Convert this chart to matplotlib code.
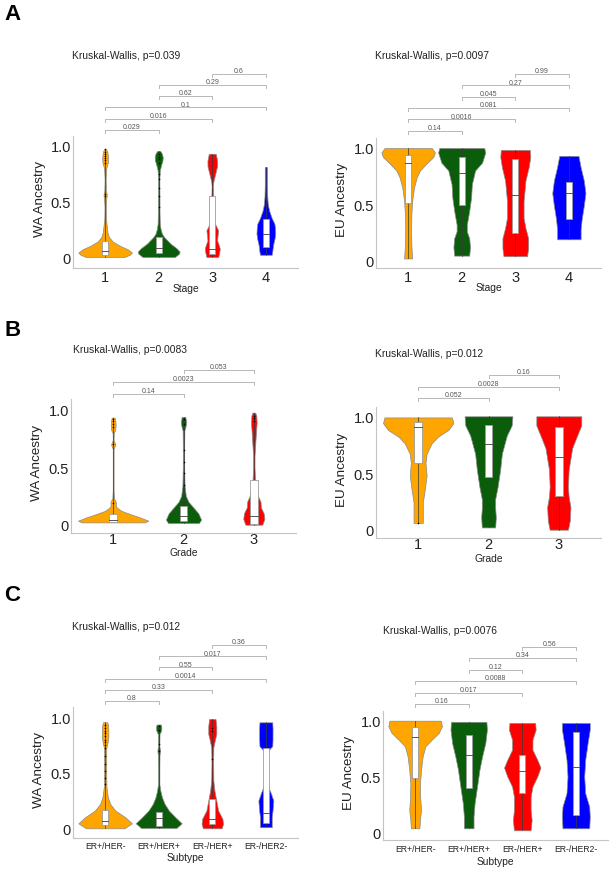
import numpy as np
import matplotlib
matplotlib.use("Agg")
import matplotlib.pyplot as plt
from matplotlib.patches import Rectangle

plt.rcParams["font.family"] = ["Liberation Sans", "DejaVu Sans"]

colors = ["#ffa500", "#0b5d0b", "#ff0000", "#0000ff"]

# -------------------------------
# Data
# violin outline: value levels + half widths (category units)
# -------------------------------
stage_cats = ["1", "2", "3", "4"]
grade_cats = ["1", "2", "3"]
subtype_cats = ["ER+/HER-", "ER+/HER+", "ER-/HER+", "ER-/HER2-"]

# A, WA Ancestry by Stage
stage_wa_y = [
    [0.00, 0.02, 0.04, 0.07, 0.10, 0.14, 0.18, 0.22, 0.28, 0.35, 0.45, 0.52, 0.56, 0.60, 0.70, 0.80, 0.85, 0.90, 0.95, 0.97],
    [0.00, 0.03, 0.05, 0.08, 0.12, 0.15, 0.18, 0.21, 0.25, 0.30, 0.40, 0.50, 0.60, 0.70, 0.78, 0.83, 0.87, 0.90, 0.93, 0.955],
    [0.00, 0.04, 0.075, 0.11, 0.15, 0.20, 0.24, 0.28, 0.32, 0.40, 0.50, 0.58, 0.64, 0.68, 0.72, 0.78, 0.82, 0.87, 0.93],
    [0.02, 0.05, 0.09, 0.12, 0.16, 0.21, 0.26, 0.30, 0.35, 0.42, 0.48, 0.55, 0.65, 0.75, 0.81],
]
stage_wa_w = [
    [0.36, 0.46, 0.50, 0.42, 0.28, 0.14, 0.07, 0.045, 0.03, 0.015, 0.012, 0.02, 0.03, 0.015, 0.01, 0.02, 0.05, 0.055, 0.04, 0.02],
    [0.30, 0.38, 0.39, 0.33, 0.22, 0.16, 0.10, 0.06, 0.035, 0.02, 0.015, 0.015, 0.013, 0.012, 0.02, 0.045, 0.07, 0.075, 0.06, 0.03],
    [0.11, 0.13, 0.14, 0.12, 0.09, 0.10, 0.11, 0.07, 0.03, 0.02, 0.02, 0.015, 0.012, 0.02, 0.04, 0.07, 0.09, 0.09, 0.065],
    [0.11, 0.12, 0.13, 0.14, 0.16, 0.175, 0.17, 0.16, 0.11, 0.06, 0.035, 0.025, 0.02, 0.02, 0.02],
]
stage_wa_q1 = [0.02, 0.04, 0.03, 0.09]
stage_wa_med = [0.05, 0.08, 0.07, 0.21]
stage_wa_q3 = [0.14, 0.18, 0.55, 0.34]
stage_wa_out = [
    [0.55, 0.57, 0.85, 0.87, 0.89, 0.91, 0.93, 0.95, 0.97],
    [0.45, 0.55, 0.62, 0.70, 0.75, 0.85, 0.88, 0.90, 0.93],
    [],
    [],
]
stage_wa_p = ["0.029", "0.016", "0.1", "0.62", "0.29", "0.6"]
stage_wa_kw = "Kruskal-Wallis, p=0.039"

# A, EU Ancestry by Stage
stage_eu_y = [
    [0.02, 0.14, 0.26, 0.41, 0.53, 0.65, 0.74, 0.80, 0.86, 0.92, 0.96, 1.00],
    [0.045, 0.12, 0.20, 0.26, 0.32, 0.44, 0.56, 0.68, 0.80, 0.87, 0.96, 1.00],
    [0.04, 0.11, 0.20, 0.29, 0.38, 0.53, 0.71, 0.83, 0.92, 0.983],
    [0.19, 0.28, 0.37, 0.49, 0.60, 0.71, 0.83, 0.93],
]
stage_eu_w = [
    [0.075, 0.06, 0.055, 0.06, 0.075, 0.11, 0.16, 0.22, 0.34, 0.47, 0.50, 0.44],
    [0.14, 0.155, 0.14, 0.095, 0.095, 0.14, 0.175, 0.19, 0.25, 0.38, 0.44, 0.42],
    [0.22, 0.24, 0.24, 0.19, 0.155, 0.155, 0.19, 0.25, 0.28, 0.27],
    [0.22, 0.22, 0.24, 0.28, 0.31, 0.28, 0.22, 0.18],
]
stage_eu_q1 = [0.51, 0.495, 0.25, 0.37]
stage_eu_med = [0.865, 0.775, 0.583, 0.60]
stage_eu_q3 = [0.94, 0.92, 0.90, 0.70]
stage_eu_out = [[], [], [], []]
stage_eu_p = ["0.14", "0.0016", "0.081", "0.045", "0.27", "0.99"]
stage_eu_kw = "Kruskal-Wallis, p=0.0097"

# B, WA Ancestry by Grade
grade_wa_y = [
    [0.02, 0.035, 0.064, 0.093, 0.12, 0.15, 0.17, 0.19, 0.21, 0.23, 0.30, 0.50, 0.66, 0.70, 0.74, 0.80, 0.83, 0.87, 0.91, 0.934],
    [0.015, 0.045, 0.10, 0.15, 0.20, 0.25, 0.34, 0.50, 0.70, 0.82, 0.86, 0.90, 0.94],
    [0.00, 0.05, 0.10, 0.15, 0.20, 0.25, 0.35, 0.50, 0.60, 0.70, 0.80, 0.89, 0.95, 0.977],
]
grade_wa_w = [
    [0.45, 0.50, 0.38, 0.24, 0.12, 0.05, 0.035, 0.04, 0.03, 0.012, 0.006, 0.006, 0.006, 0.03, 0.006, 0.008, 0.03, 0.035, 0.03, 0.02],
    [0.22, 0.25, 0.21, 0.14, 0.07, 0.033, 0.015, 0.01, 0.01, 0.012, 0.03, 0.038, 0.025],
    [0.12, 0.15, 0.14, 0.10, 0.095, 0.06, 0.02, 0.01, 0.01, 0.02, 0.03, 0.04, 0.035, 0.02],
]
grade_wa_q1 = [0.02, 0.032, 0.005]
grade_wa_med = [0.045, 0.075, 0.08]
grade_wa_q3 = [0.096, 0.16, 0.387]
grade_wa_out = [
    [0.19, 0.70, 0.85, 0.88, 0.90, 0.92],
    [0.35, 0.45, 0.55, 0.65, 0.88, 0.92],
    [0.90, 0.93, 0.95],
]
grade_wa_p = ["0.14", "0.0023", "0.053"]
grade_wa_kw = "Kruskal-Wallis, p=0.0083"

# B, EU Ancestry by Grade
grade_eu_y = [
    [0.06, 0.12, 0.24, 0.36, 0.48, 0.59, 0.67, 0.76, 0.82, 0.88, 0.94, 0.99],
    [0.02, 0.11, 0.19, 0.27, 0.38, 0.53, 0.67, 0.83, 0.92, 1.00],
    [0.00, 0.08, 0.20, 0.29, 0.38, 0.53, 0.72, 0.83, 0.92, 1.00],
]
grade_eu_w = [
    [0.066, 0.066, 0.066, 0.095, 0.12, 0.104, 0.12, 0.19, 0.28, 0.43, 0.50, 0.48],
    [0.095, 0.104, 0.095, 0.095, 0.13, 0.166, 0.19, 0.26, 0.33, 0.34],
    [0.13, 0.156, 0.166, 0.14, 0.13, 0.14, 0.19, 0.26, 0.32, 0.32],
]
grade_eu_q1 = [0.59, 0.467, 0.295]
grade_eu_med = [0.91, 0.756, 0.644]
grade_eu_q3 = [0.95, 0.926, 0.91]
grade_eu_out = [[0.06], [], []]
grade_eu_p = ["0.052", "0.0028", "0.16"]
grade_eu_kw = "Kruskal-Wallis, p=0.012"

# C, WA Ancestry by Subtype
sub_wa_y = [
    [0.00, 0.045, 0.10, 0.16, 0.22, 0.28, 0.37, 0.45, 0.60, 0.72, 0.77, 0.82, 0.88, 0.93, 0.955],
    [0.003, 0.045, 0.10, 0.16, 0.22, 0.28, 0.34, 0.40, 0.55, 0.66, 0.70, 0.74, 0.85, 0.88, 0.91, 0.935],
    [0.00, 0.04, 0.085, 0.16, 0.25, 0.34, 0.43, 0.60, 0.73, 0.80, 0.85, 0.92, 0.985],
    [0.01, 0.10, 0.16, 0.25, 0.32, 0.38, 0.50, 0.65, 0.70, 0.72, 0.74, 0.80, 0.90, 0.955],
]
sub_wa_w = [
    [0.36, 0.50, 0.375, 0.19, 0.094, 0.05, 0.025, 0.02, 0.02, 0.02, 0.045, 0.06, 0.06, 0.055, 0.04],
    [0.33, 0.43, 0.31, 0.19, 0.11, 0.06, 0.03, 0.012, 0.012, 0.015, 0.025, 0.012, 0.015, 0.045, 0.05, 0.04],
    [0.175, 0.20, 0.19, 0.11, 0.075, 0.04, 0.02, 0.015, 0.02, 0.05, 0.075, 0.075, 0.06],
    [0.11, 0.11, 0.125, 0.14, 0.09, 0.04, 0.03, 0.03, 0.04, 0.08, 0.12, 0.125, 0.125, 0.12],
]
sub_wa_q1 = [0.033, 0.025, 0.04, 0.045]
sub_wa_med = [0.065, 0.09, 0.085, 0.135]
sub_wa_q3 = [0.165, 0.145, 0.264, 0.72]
sub_wa_out = [
    [0.40, 0.45, 0.52, 0.58, 0.65, 0.72, 0.75, 0.78, 0.80, 0.83, 0.86, 0.88, 0.90, 0.93],
    [0.70, 0.76, 0.89, 0.92],
    [0.62, 0.88, 0.90],
    [],
]
sub_wa_p = ["0.8", "0.33", "0.0014", "0.55", "0.017", "0.36"]
sub_wa_kw = "Kruskal-Wallis, p=0.012"

# C, EU Ancestry by Subtype
sub_eu_y = [
    [0.036, 0.11, 0.20, 0.32, 0.44, 0.56, 0.68, 0.77, 0.83, 0.89, 0.95, 1.00],
    [0.036, 0.14, 0.26, 0.41, 0.56, 0.68, 0.80, 0.92, 0.99],
    [0.018, 0.11, 0.20, 0.32, 0.41, 0.50, 0.58, 0.65, 0.74, 0.83, 0.92, 0.98],
    [0.036, 0.14, 0.23, 0.35, 0.50, 0.65, 0.80, 0.92, 0.98],
]
sub_eu_w = [
    [0.08, 0.09, 0.11, 0.094, 0.09, 0.11, 0.14, 0.19, 0.31, 0.44, 0.50, 0.48],
    [0.09, 0.09, 0.11, 0.156, 0.20, 0.25, 0.31, 0.34, 0.33],
    [0.156, 0.175, 0.156, 0.156, 0.19, 0.28, 0.34, 0.28, 0.19, 0.19, 0.25, 0.24],
    [0.25, 0.26, 0.25, 0.175, 0.156, 0.175, 0.22, 0.26, 0.26],
]
sub_eu_q1 = [0.49, 0.394, 0.35, 0.155]
sub_eu_med = [0.854, 0.69, 0.55, 0.585]
sub_eu_q3 = [0.94, 0.872, 0.69, 0.90]
sub_eu_out = [[], [], [], []]
sub_eu_p = ["0.16", "0.017", "0.0088", "0.12", "0.34", "0.56"]
sub_eu_kw = "Kruskal-Wallis, p=0.0076"

# -------------------------------
# Figure
# -------------------------------
W, H = 612, 870
fig = plt.figure(figsize=(W / 100, H / 100), dpi=100)


def panel(box, cats, ys, ws, q1, med, q3, outs, pvals, kw, ylabel, xlabel,
          ylab_x, xlab_y, title_xy, br, xfs=10.5, xpad=1.5):
    left, right, bottom, top, y0, y1 = box
    unit = y0 - y1

    def val(py):
        return (y0 - py) / unit

    ax = fig.add_axes([left / W, 1 - bottom / H, (right - left) / W, (bottom - top) / H])
    n = len(cats)
    ax.set_xlim(0.4, n + 0.6)
    ax.set_ylim(val(bottom), val(top))
    bw = 0.055

    for i in range(n):
        x = i + 1
        yy = np.array(ys[i])
        hw = np.array(ws[i])
        ax.fill_betweenx(yy, x - hw, x + hw, facecolor=colors[i],
                         edgecolor="#8a8a8a", lw=0.5, zorder=2)
        ax.plot([x, x], [yy[0], yy[-1]], color="#3a3a3a", lw=0.5, zorder=3)
        ax.add_patch(Rectangle((x - bw, q1[i]), 2 * bw, q3[i] - q1[i],
                               facecolor="white", edgecolor="#9c9c9c", lw=0.6, zorder=4))
        ax.plot([x - bw, x + bw], [med[i], med[i]], color="#555555", lw=0.7, zorder=5)
        if outs[i]:
            ax.scatter([x] * len(outs[i]), outs[i], s=1.3, color="black", lw=0, zorder=6)

    # pairwise comparison brackets
    if n == 4:
        pairs = [(1, 2), (1, 3), (1, 4), (2, 3), (2, 4), (3, 4)]
    else:
        pairs = [(1, 2), (1, 3), (2, 3)]
    base, step = br
    for k, ((a, b), p) in enumerate(zip(pairs, pvals)):
        yv = val(base - k * step)
        tk = 3 / unit
        ax.plot([a, a, b, b], [yv - tk, yv, yv, yv - tk], color="#b8b8b8",
                lw=0.7, clip_on=False)
        ax.text((a + b) / 2, yv + 3.2 / unit, p, ha="center", va="center",
                fontsize=5, color="#555555", clip_on=False)

    ax.set_xticks(range(1, n + 1))
    ax.set_xticklabels(cats, fontsize=xfs)
    ax.set_yticks([0, 0.5, 1.0])
    ax.set_yticklabels(["0", "0.5", "1.0"], fontsize=10.5)
    ax.tick_params(axis="y", length=0, pad=1.5, colors="#222222")
    ax.tick_params(axis="x", length=0, pad=xpad, colors="#222222")
    for s in ["top", "right"]:
        ax.spines[s].set_visible(False)
    for s in ["left", "bottom"]:
        ax.spines[s].set_color("#c4c4c4")
        ax.spines[s].set_linewidth(0.8)

    ax.set_ylabel(ylabel, fontsize=9.7, va="center", color="#222222")
    ax.yaxis.set_label_coords((ylab_x - left) / (right - left), 0.53)
    ax.set_xlabel(xlabel, fontsize=7.4, va="center", color="#222222")
    ax.xaxis.set_label_coords(0.5, (bottom - xlab_y) / (bottom - top))

    fig.text(title_xy[0] / W, 1 - title_xy[1] / H, kw, ha="left", va="center",
             fontsize=7.4, color="#222222")
    return ax


panel((73, 298, 269, 137, 258, 147), stage_cats, stage_wa_y, stage_wa_w,
      stage_wa_q1, stage_wa_med, stage_wa_q3, stage_wa_out, stage_wa_p, stage_wa_kw,
      "WA Ancestry", "Stage", 40, 288.5, (72, 56), (130.7, 11.2))
panel((376, 601, 269, 139, 261.7, 149), stage_cats, stage_eu_y, stage_eu_w,
      stage_eu_q1, stage_eu_med, stage_eu_q3, stage_eu_out, stage_eu_p, stage_eu_kw,
      "EU Ancestry", "Stage", 342, 288, (375, 56), (131.7, 11.3))
panel((71, 296, 534, 400, 525.7, 411), grade_cats, grade_wa_y, grade_wa_w,
      grade_wa_q1, grade_wa_med, grade_wa_q3, grade_wa_out, grade_wa_p, grade_wa_kw,
      "WA Ancestry", "Grade", 37.5, 552.5, (73, 350), (395, 12.2), xpad=-1)
panel((376, 601, 539, 408, 530.7, 417.3), grade_cats, grade_eu_y, grade_eu_w,
      grade_eu_q1, grade_eu_med, grade_eu_q3, grade_eu_out, grade_eu_p, grade_eu_kw,
      "EU Ancestry", "Grade", 342, 559, (375, 354), (399, 11.5), xpad=-0.5)
panel((73, 298, 839, 708, 829.3, 718.3), subtype_cats, sub_wa_y, sub_wa_w,
      sub_wa_q1, sub_wa_med, sub_wa_q3, sub_wa_out, sub_wa_p, sub_wa_kw,
      "WA Ancestry", "Subtype", 39, 858, (72, 627), (701.7, 11.1), xfs=6.2, xpad=2.5)
panel((383, 608, 841, 712, 833.3, 721.7), subtype_cats, sub_eu_y, sub_eu_w,
      sub_eu_q1, sub_eu_med, sub_eu_q3, sub_eu_out, sub_eu_p, sub_eu_kw,
      "EU Ancestry", "Subtype", 349, 861.7, (382.7, 630.7), (705, 11.5), xfs=6.2, xpad=3)

# panel letters
for letter, py in [("A", 15), ("B", 331), ("C", 595.5)]:
    fig.text(4 / W, 1 - py / H, letter, ha="left", va="center",
             fontsize=16, fontweight="bold", color="black")

fig.savefig("out.png", dpi=100)
plt.close(fig)
